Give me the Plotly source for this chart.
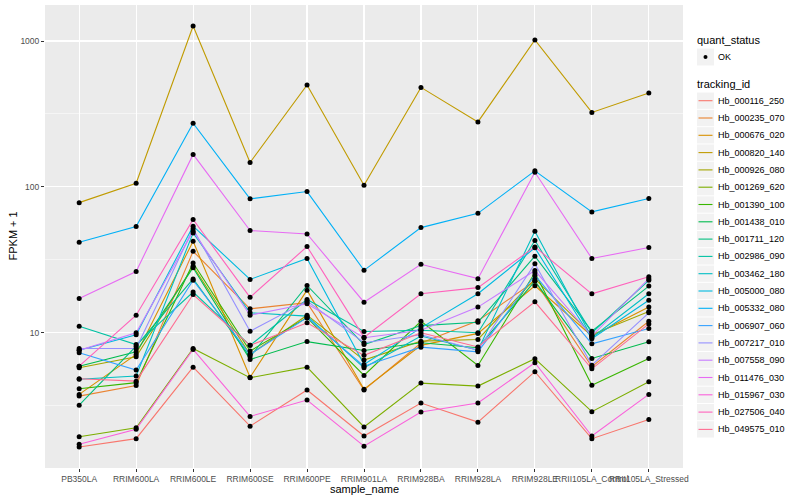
import plotly.graph_objects as go

samples = ["PB350LA", "RRIM600LA", "RRIM600LE", "RRIM600SE", "RRIM600PE", "RRIM901LA",
           "RRIM928BA", "RRIM928LA", "RRIM928LE", "RRII105LA_Control", "RRII105LA_Stressed"]

tracking_ids = ["Hb_000116_250", "Hb_000235_070", "Hb_000676_020", "Hb_000820_140", "Hb_000926_080",
                "Hb_001269_620", "Hb_001390_100", "Hb_001438_010", "Hb_001711_120", "Hb_002986_090",
                "Hb_003462_180", "Hb_005000_080", "Hb_005332_080", "Hb_006907_060", "Hb_007217_010",
                "Hb_007558_090", "Hb_011476_030", "Hb_015967_030", "Hb_027506_040", "Hb_049575_010"]

colors = ["#F8766D", "#EA8331", "#D89000", "#C09B00", "#A3A500", "#7CAE00", "#39B600", "#00BB4E",
          "#00BF7D", "#00C1A3", "#00BFC4", "#00BAE0", "#00B0F6", "#35A2FF", "#9590FF", "#C77CFF",
          "#E76BF3", "#FA62DB", "#FF62BC", "#FF6C91"]

quant_status = ["OK"]

# FPKM + 1 values, one list per tracking_id (order of samples)
Hb_000116_250 = [1.65, 1.88, 5.81, 2.29, 4.05, 1.96, 3.30, 2.44, 5.41, 1.88, 2.54]
Hb_000235_070 = [3.68, 4.35, 36.2, 14.6, 16.1, 4.05, 8.5, 12.1, 22.6, 5.85, 12.0]
Hb_000676_020 = [3.78, 7.1, 42.4, 4.96, 19.6, 4.1, 8.2, 9.9, 21.0, 9.5, 15.0]
Hb_000820_140 = [78, 106, 1267, 147, 500, 102.6, 481, 279, 1016, 324, 440]
Hb_000926_080 = [5.75, 6.85, 28.6, 7.1, 13.2, 6.5, 8.76, 9.0, 23.4, 9.7, 14.0]
Hb_001269_620 = [1.94, 2.23, 7.8, 4.92, 5.81, 2.26, 4.52, 4.31, 6.64, 2.88, 4.62]
Hb_001390_100 = [4.13, 4.55, 30.1, 7.5, 12.7, 5.1, 12.0, 5.97, 25.8, 4.36, 6.67]
Hb_001438_010 = [5.9, 7.4, 27.9, 6.56, 8.7, 7.56, 8.54, 7.9, 22.6, 6.67, 8.67]
Hb_001711_120 = [3.19, 8.1, 23.4, 6.85, 21.1, 8.3, 11.2, 11.8, 33.5, 10.25, 20.9]
Hb_002986_090 = [11.1, 8.3, 19.0, 8.2, 16.9, 10.2, 10.4, 10.0, 42.9, 10.0, 22.9]
Hb_003462_180 = [4.8, 5.05, 48.4, 13.7, 13.0, 5.75, 9.5, 7.6, 49.7, 9.24, 18.5]
Hb_005000_080 = [7.6, 9.7, 53.8, 23.2, 32.3, 6.07, 10.8, 18.5, 38.2, 9.1, 16.7]
Hb_005332_080 = [41.8, 53.5, 273, 82.8, 92.9, 26.8, 52.6, 65.9, 128.8, 67.4, 83.2]
Hb_006907_060 = [7.3, 5.55, 22.9, 7.1, 12.7, 5.9, 7.97, 7.4, 24.8, 8.4, 10.7]
Hb_007217_010 = [7.8, 7.8, 51.6, 10.25, 16.5, 8.54, 9.7, 7.6, 29.7, 6.0, 13.7]
Hb_007558_090 = [7.6, 10.0, 49.7, 13.2, 15.8, 9.24, 10.4, 15.0, 26.7, 9.5, 23.5]
Hb_011476_030 = [17.2, 26.3, 167, 50.2, 47.6, 16.2, 29.5, 23.5, 126, 32.3, 38.4]
Hb_015967_030 = [1.72, 2.18, 7.69, 2.67, 3.46, 1.67, 2.86, 3.30, 6.23, 1.96, 3.78]
Hb_027506_040 = [5.9, 13.2, 59.8, 17.5, 39.0, 9.3, 18.5, 20.4, 38.8, 18.5, 24.2]
Hb_049575_010 = [4.84, 4.66, 18.3, 8.2, 11.7, 7.0, 10.0, 8.0, 16.3, 5.66, 11.5]

series = [Hb_000116_250, Hb_000235_070, Hb_000676_020, Hb_000820_140, Hb_000926_080,
          Hb_001269_620, Hb_001390_100, Hb_001438_010, Hb_001711_120, Hb_002986_090,
          Hb_003462_180, Hb_005000_080, Hb_005332_080, Hb_006907_060, Hb_007217_010,
          Hb_007558_090, Hb_011476_030, Hb_015967_030, Hb_027506_040, Hb_049575_010]

FONT = "Liberation Sans, Arial, sans-serif"
W, H = 800, 500
ML, MR, MT, MB = 45, 117, 5, 32
PW, PH = W - ML - MR, H - MT - MB


def px(x):
    return (x - ML) / PW


def py(y):
    return (H - MB - y) / PH


fig = go.Figure()

for i, (tid, vals) in enumerate(zip(tracking_ids, series)):
    fig.add_trace(go.Scatter(x=samples, y=vals, mode="lines", name=tid,
                             line=dict(color=colors[i], width=1.1),
                             showlegend=False, hoverinfo="skip"))

for i, vals in enumerate(series):
    fig.add_trace(go.Scatter(x=samples, y=vals, mode="markers", showlegend=False,
                             marker=dict(color="black", size=5), hoverinfo="skip"))

# ---- hand-built ggplot-style legend ----
shapes = []
annotations = []
KX0, KX1 = 697, 714
annotations.append(dict(xref="paper", yref="paper", x=px(695), y=py(40.5), text="quant_status",
                        showarrow=False, xanchor="left", yanchor="middle",
                        font=dict(size=11, color="black", family=FONT)))
ky = 57
shapes.append(dict(type="rect", xref="paper", yref="paper", x0=px(KX0), x1=px(KX1),
                   y0=py(ky - 8.5), y1=py(ky + 8.5), fillcolor="#F2F2F2", line=dict(width=0),
                   layer="above"))
shapes.append(dict(type="circle", xref="paper", yref="paper", x0=px(703.5), x1=px(707.5),
                   y0=py(ky - 2), y1=py(ky + 2), fillcolor="black", line=dict(width=0),
                   layer="above"))
annotations.append(dict(xref="paper", yref="paper", x=px(716), y=py(ky), text=quant_status[0],
                        showarrow=False, xanchor="left", yanchor="middle",
                        font=dict(size=9, color="black", family=FONT)))

annotations.append(dict(xref="paper", yref="paper", x=px(695), y=py(84), text="tracking_id",
                        showarrow=False, xanchor="left", yanchor="middle",
                        font=dict(size=11, color="black", family=FONT)))
STEP = 17.3
for i, tid in enumerate(tracking_ids):
    cy = 100.7 + i * STEP
    shapes.append(dict(type="rect", xref="paper", yref="paper", x0=px(KX0), x1=px(KX1),
                       y0=py(cy - STEP / 2 + 0.5), y1=py(cy + STEP / 2 - 0.5),
                       fillcolor="#F2F2F2", line=dict(width=0), layer="above"))
    shapes.append(dict(type="line", xref="paper", yref="paper", x0=px(698.5), x1=px(712.5),
                       y0=py(cy), y1=py(cy), line=dict(color=colors[i], width=1.1),
                       layer="above"))
    annotations.append(dict(xref="paper", yref="paper", x=px(716), y=py(cy), text=tid,
                            showarrow=False, xanchor="left", yanchor="middle",
                            font=dict(size=9, color="black", family=FONT)))

# axis titles
annotations.append(dict(xref="paper", yref="paper", x=px(364), y=py(488.5), text="sample_name",
                        showarrow=False, xanchor="center", yanchor="middle",
                        font=dict(size=11, color="black", family=FONT)))
annotations.append(dict(xref="paper", yref="paper", x=px(12), y=py(236.5), text="FPKM + 1",
                        showarrow=False, xanchor="center", yanchor="middle", textangle=-90,
                        font=dict(size=11, color="black", family=FONT)))

fig.update_layout(
    width=W, height=H,
    margin=dict(l=ML, r=MR, t=MT, b=MB, autoexpand=False),
    paper_bgcolor="white", plot_bgcolor="#EBEBEB",
    font=dict(family=FONT, size=10, color="black"),
    showlegend=False,
    shapes=shapes, annotations=annotations,
)

fig.update_xaxes(type="category", range=[-0.6, 10.6], showgrid=True, gridcolor="white",
                 gridwidth=1.1, zeroline=False, ticks="outside", ticklen=3, tickcolor="#333333",
                 tickangle=0, tickfont=dict(size=8.5, color="#4D4D4D", family=FONT),
                 showline=False, automargin=False)

fig.update_yaxes(type="log", range=[0.073, 3.247], tickvals=[10, 100, 1000],
                 ticktext=["10", "100", "1000"], showgrid=True, gridcolor="white", gridwidth=1.1,
                 zeroline=False, ticks="outside", ticklen=3, tickcolor="#333333",
                 tickfont=dict(size=8.5, color="#4D4D4D", family=FONT),
                 minor=dict(tickvals=[3.1623, 31.623, 316.23], showgrid=True,
                            gridcolor="white", gridwidth=0.5, ticks=""),
                 showline=False, automargin=False)

fig.write_html("out.html", config={"displayModeBar": False, "staticPlot": True},
               post_script="document.body.style.margin='0';document.body.style.overflow='hidden';")
